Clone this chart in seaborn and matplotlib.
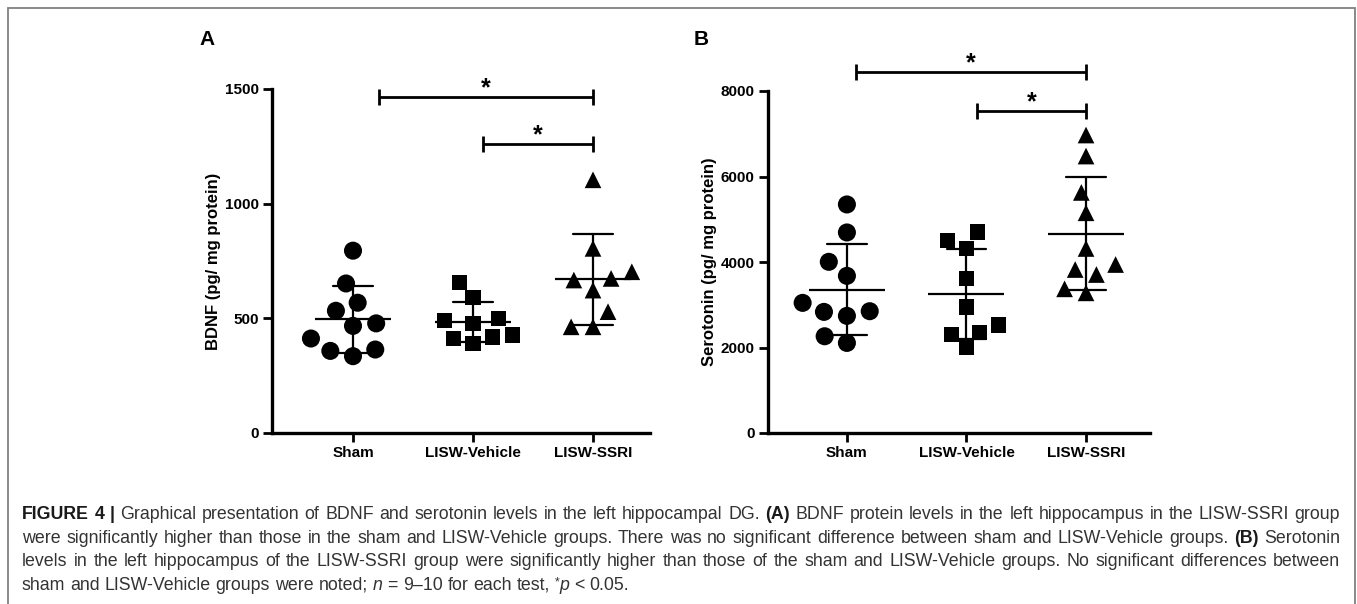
"""Scatter dot plots (mean ± SD) of BDNF and serotonin levels, with caption."""
import matplotlib

matplotlib.use("Agg")

import matplotlib.pyplot as plt
import numpy as np
import pandas as pd
import seaborn as sns
from matplotlib import font_manager
from matplotlib.patches import Rectangle

# ---- data ----
groups = ["Sham", "LISW-Vehicle", "LISW-SSRI"]
markers = ["o", "s", "^"]
marker_sizes = [13, 11, 12]

bdnf_sham = [335, 412, 478, 568, 795, 652, 364, 358, 467, 533]
bdnf_vehicle = [478, 390, 655, 591, 427, 489, 412, 500, 419]
bdnf_ssri = [1104, 805, 703, 623, 529, 667, 674, 463, 463]

sero_sham = [5346, 4691, 4004, 3676, 2833, 2849, 3044, 2740, 2263, 2107]
sero_vehicle = [4496, 4699, 4316, 3614, 2950, 2529, 2310, 2349, 1998]
sero_ssri = [6970, 6478, 5627, 5151, 4316, 3941, 3824, 3707, 3278, 3372]

bdnf_ticks = [0, 500, 1000, 1500]
sero_ticks = [0, 2000, 4000, 6000, 8000]

# significance brackets: (start, end, height)
bdnf_sig = [(0.22, 2, 1465), (1.08, 2, 1260)]
sero_sig = [(0.08, 2, 8444), (1.09, 2, 7532)]

caption_lines = [
    [("FIGURE 4 |", "bold"), ("Graphical presentation of BDNF and serotonin levels in the left "
                              "hippocampal DG.", "normal"), ("(A)", "bold"),
     ("BDNF protein levels in the left hippocampus in the LISW-SSRI group", "normal")],
    [("were significantly higher than those in the sham and LISW-Vehicle groups. There was no "
      "significant difference between sham and LISW-Vehicle groups.", "normal"),
     ("(B)", "bold"), ("Serotonin", "normal")],
    [("levels in the left hippocampus of the LISW-SSRI group were significantly higher than those "
      "of the sham and LISW-Vehicle groups. No significant differences between", "normal")],
]
caption_last = [("sham and LISW-Vehicle groups were noted;", "normal"), ("n", "italic"),
                ("= 9–10 for each test,", "normal"), ("*", "super"), ("p", "italic-join"),
                ("< 0.05.", "normal")]

W, H = 1357, 604
sns.set_theme(style="ticks")
plt.rcParams["font.family"] = ["Liberation Sans", "DejaVu Sans"]
plt.rcParams["font.weight"] = "bold"
plt.rcParams["text.color"] = "black"
plt.rcParams["axes.labelcolor"] = "black"
plt.rcParams["xtick.color"] = "black"
plt.rcParams["ytick.color"] = "black"

fig = plt.figure(figsize=(W / 100, H / 100), dpi=100)


def panel(ax, values, ticks, ylabel, sig, tick_half):
    df = pd.DataFrame({
        "group": np.repeat(groups, [len(v) for v in values]),
        "value": np.concatenate(values),
    })
    for g, m, s in zip(groups, markers, marker_sizes):
        sns.swarmplot(data=df[df["group"] == g], x="group", y="value", order=groups,
                      marker=m, size=s, color="black", edgecolor="none", linewidth=3, ax=ax)
    sns.pointplot(data=df, x="group", y="value", order=groups, errorbar="sd", capsize=0.33,
                  color="black", marker="_", markersize=55, markeredgewidth=1.6,
                  linestyle="none", err_kws={"linewidth": 1.6}, ax=ax)

    ax.set_ylim(0, ticks[-1])
    ax.set_yticks(ticks)
    ax.set_xlabel("")
    ax.set_ylabel(ylabel, fontsize=12, fontweight="bold", labelpad=3)
    ax.tick_params(axis="both", width=2, length=6.5, labelsize=11, pad=3,
                   color="black", labelcolor="black")
    sns.despine(ax=ax)
    for side in ("left", "bottom"):
        ax.spines[side].set_linewidth(2.4)
        ax.spines[side].set_color("black")
    ax.grid(False)

    for x0, x1, h in sig:
        ax.plot([x0, x1], [h, h], color="black", lw=2, clip_on=False, solid_capstyle="butt")
        for xe in (x0, x1):
            ax.plot([xe, xe], [h - tick_half, h + tick_half], color="black", lw=2,
                    clip_on=False, solid_capstyle="butt")
        ax.annotate("*", ((x0 + x1) / 2, h), xytext=(0, 1.5), textcoords="offset points",
                    ha="center", va="baseline", fontsize=18, fontweight="bold",
                    annotation_clip=False)


axA = fig.add_axes([272 / W, 171 / H, 378 / W, 344 / H])
panel(axA, [bdnf_sham, bdnf_vehicle, bdnf_ssri], bdnf_ticks, "BDNF (pg/ mg protein)",
      bdnf_sig, 35)
axA.set_xlim(-0.675, 2.475)

axB = fig.add_axes([768 / W, 171 / H, 382 / W, 342 / H])
panel(axB, [sero_sham, sero_vehicle, sero_ssri], sero_ticks, "Serotonin (pg/ mg protein)",
      sero_sig, 187)
axB.set_xlim(-0.66, 2.535)

fig.text(199 / W, 1 - 45 / H, "A", fontsize=15, fontweight="bold", va="baseline")
fig.text(694 / W, 1 - 45 / H, "B", fontsize=15, fontweight="bold", va="baseline")

# frame around the figure
fig.add_artist(Rectangle((8 / W, -0.05), (1355 - 8) / W, 1.05 - 8 / H, transform=fig.transFigure,
                         fill=False, edgecolor="#808080", linewidth=1.3))

# ---- caption (justified lines) ----
names = {f.name for f in font_manager.fontManager.ttflist}
cap_font = "Liberation Sans Narrow" if "Liberation Sans Narrow" in names else "Liberation Sans"
renderer = fig.canvas.get_renderer()
left_x, right_x = 22, 1340
baselines = [519, 543, 566, 590]


def style_kw(style, size):
    kw = {"family": cap_font, "fontsize": size, "color": "#333333", "fontweight": "normal"}
    if style == "bold":
        kw.update(fontweight="bold", color="#1a1a1a")
    elif style.startswith("italic"):
        kw.update(fontstyle="italic")
    elif style == "super":
        kw.update(fontsize=size * 0.7)
    return kw


def width(s, kw):
    t = fig.text(0, 0, s, **kw)
    w = t.get_window_extent(renderer).width
    t.remove()
    return w


def tokens(segments):
    out = []
    for text, style in segments:
        for i, word in enumerate(text.split(" ")):
            out.append((word, style, style == "italic-join" and i == 0))
    return out


def natural_width(toks, size):
    sp = width("a a", style_kw("normal", size)) - width("aa", style_kw("normal", size))
    total = sum(width(w, style_kw(s, size)) for w, s, _ in toks)
    return total + sp * sum(1 for _, _, j in toks[1:] if not j), sp


cap_size = 13.5
line_toks = [tokens(seg) for seg in caption_lines]
while max(natural_width(t, cap_size)[0] for t in line_toks) > (right_x - left_x) * 0.99:
    cap_size -= 0.25


def place(toks, y, justify):
    nat, sp = natural_width(toks, cap_size)
    n_gaps = sum(1 for _, _, j in toks[1:] if not j)
    gap = sp + ((right_x - left_x) - nat) / n_gaps if justify else sp
    x = left_x
    for k, (word, style, joined) in enumerate(toks):
        if k > 0 and not joined:
            x += gap
        kw = style_kw(style, cap_size)
        yy = y - 5 if style == "super" else y
        fig.text(x / W, 1 - yy / H, word, va="baseline", ha="left", **kw)
        x += width(word, kw)


for toks, y in zip(line_toks, baselines[:3]):
    place(toks, y, True)
place(tokens(caption_last), baselines[3], False)

fig.savefig("out.png", dpi=100)
